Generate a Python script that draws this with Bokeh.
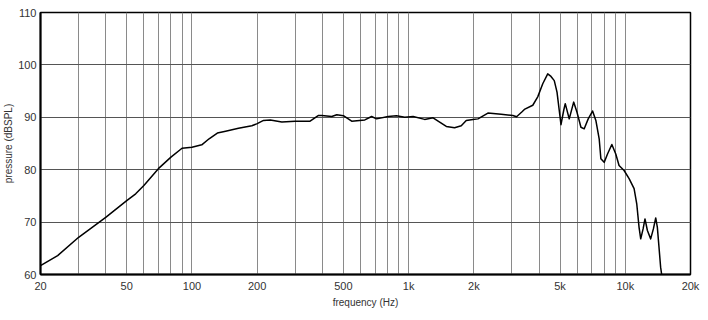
from bokeh.plotting import figure
from bokeh.models import FixedTicker, Range1d
from bokeh.embed import file_html
from bokeh.resources import INLINE

# ---- data ----
freq = [20, 24, 30, 40, 50, 55, 60, 70, 80, 90, 100, 111, 120, 131, 143, 164, 189,
        199, 214, 230, 260, 299, 351, 384, 397, 442, 466, 500, 546, 628, 675, 711,
        805, 879, 960, 1049, 1186, 1297, 1391, 1493, 1630, 1750, 1845, 1981, 2090,
        2323, 2674, 3027, 3150, 3329, 3422, 3742, 3944, 4160, 4386, 4541, 4702,
        4841, 4958, 5050, 5196, 5284, 5512, 5778, 5982, 6242, 6464, 6744, 7064,
        7315, 7578, 7716, 7991, 8280, 8670, 9040, 9360, 9875, 10416, 10983, 11296,
        11577, 11784, 12085, 12330, 12650, 13100, 13480, 13820, 14063, 14310,
        14560, 14720]
spl = [61.7, 63.6, 67.1, 70.9, 74.1, 75.4, 77.0, 80.2, 82.4, 84.1, 84.3, 84.75, 85.9,
       87.0, 87.35, 87.9, 88.4, 88.75, 89.4, 89.5, 89.1, 89.25, 89.25, 90.35, 90.35,
       90.15, 90.5, 90.3, 89.25, 89.5, 90.15, 89.7, 90.15, 90.3, 90.0, 90.15, 89.6,
       89.9, 89.1, 88.25, 88.0, 88.4, 89.4, 89.6, 89.7, 90.8, 90.6, 90.35, 90.1, 91.0,
       91.5, 92.3, 93.9, 96.4, 98.3, 97.8, 97.0, 94.8, 91.3, 88.6, 91.3, 92.6, 89.7,
       92.9, 91.0, 88.1, 87.8, 89.7, 91.2, 89.4, 85.9, 82.1, 81.4, 83.0, 84.8, 83.0,
       80.8, 79.85, 78.3, 76.4, 73.5, 69.0, 66.8, 68.7, 70.6, 68.4, 66.8, 68.7, 70.8,
       69.0, 65.2, 61.4, 60.0]

x_tick_values = [20, 50, 100, 200, 500, 1000, 2000, 5000, 10000, 20000]
x_tick_labels = ["20", "50", "100", "200", "500", "1k", "2k", "5k", "10k", "20k"]
x_grid_values = [20, 30, 40, 50, 60, 70, 80, 90, 100, 200, 300, 400, 500, 600, 700,
                 800, 900, 1000, 2000, 3000, 4000, 5000, 6000, 7000, 8000, 9000,
                 10000, 20000]
y_tick_values = [60, 70, 80, 90, 100, 110]

p = figure(width=700, height=312, x_axis_type="log",
           x_range=Range1d(20, 20000), y_range=Range1d(60, 110),
           output_backend="svg", toolbar_location=None,
           min_border_left=38, min_border_right=10, min_border_top=12,
           min_border_bottom=38)

p.line(freq, spl, line_color="black", line_width=1.5, line_join="round")

# axes
p.xaxis.ticker = FixedTicker(ticks=x_tick_values)
p.xaxis.major_label_overrides = {v: l for v, l in zip(x_tick_values, x_tick_labels)}
p.yaxis.ticker = FixedTicker(ticks=y_tick_values)
for ax in (p.xaxis[0], p.yaxis[0]):
    ax.major_tick_in = 0
    ax.major_tick_out = 0
    ax.minor_tick_in = 0
    ax.minor_tick_out = 0
    ax.axis_line_color = "black"
    ax.axis_line_width = 2
    ax.major_label_text_font = "Liberation Sans"
    ax.major_label_text_font_size = "11px"
    ax.major_label_text_color = "#333333"
    ax.axis_label_text_font = "Liberation Sans"
    ax.axis_label_text_font_size = "10px"
    ax.axis_label_text_font_style = "normal"
    ax.axis_label_text_color = "#333333"
p.xaxis.axis_label = "frequency (Hz)"
p.yaxis.axis_label = "pressure (dBSPL)"
p.xaxis.major_label_standoff = 5
p.xaxis.axis_label_standoff = 2
p.yaxis.major_label_standoff = 4
p.yaxis.axis_label_standoff = 1

# grids
p.xgrid.ticker = FixedTicker(ticks=x_grid_values)
p.xgrid.grid_line_color = "#8a8a8a"
p.xgrid.grid_line_width = 1
p.ygrid.ticker = FixedTicker(ticks=y_tick_values)
p.ygrid.grid_line_color = "#555555"
p.ygrid.grid_line_width = 1

p.outline_line_color = "black"
p.outline_line_width = 1.5
p.outline_line_alpha = 1.0

open("out.html", "w").write(file_html(p, INLINE))
